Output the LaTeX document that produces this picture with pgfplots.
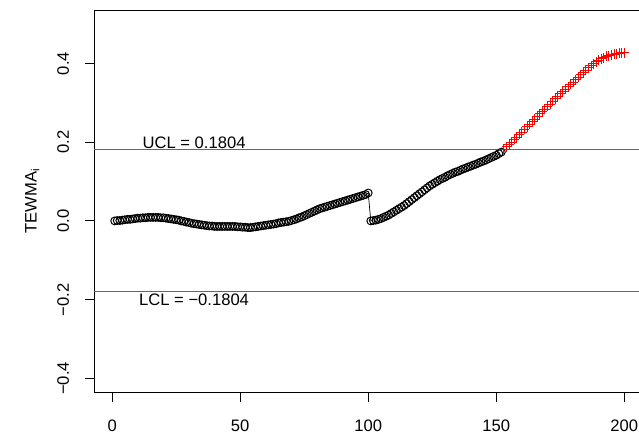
\documentclass[border=0pt]{standalone}
\usepackage{fontspec}
\setmainfont{Liberation Sans}
\usepackage{pgfplots}
\usepackage{pgfplotstable}
\pgfplotsset{compat=1.18}
\pgfplotstableread{
i v
1 0.000
2 0.001
3 0.001
4 0.002
5 0.003
6 0.004
7 0.004
8 0.005
9 0.006
10 0.007
11 0.007
12 0.008
13 0.008
14 0.009
15 0.009
16 0.009
17 0.009
18 0.009
19 0.008
20 0.008
21 0.007
22 0.006
23 0.005
24 0.004
25 0.003
26 0.002
27 0.000
28 -0.001
29 -0.003
30 -0.004
31 -0.006
32 -0.007
33 -0.008
34 -0.009
35 -0.010
36 -0.011
37 -0.012
38 -0.013
39 -0.013
40 -0.014
41 -0.014
42 -0.014
43 -0.014
44 -0.014
45 -0.014
46 -0.014
47 -0.014
48 -0.014
49 -0.015
50 -0.015
51 -0.016
52 -0.016
53 -0.017
54 -0.017
55 -0.016
56 -0.015
57 -0.014
58 -0.013
59 -0.012
60 -0.011
61 -0.010
62 -0.009
63 -0.008
64 -0.007
65 -0.005
66 -0.004
67 -0.003
68 -0.002
69 -0.001
70 0.001
71 0.003
72 0.005
73 0.008
74 0.010
75 0.013
76 0.016
77 0.019
78 0.022
79 0.025
80 0.028
81 0.031
82 0.033
83 0.035
84 0.037
85 0.039
86 0.041
87 0.043
88 0.045
89 0.047
90 0.049
91 0.051
92 0.053
93 0.055
94 0.057
95 0.059
96 0.061
97 0.063
98 0.065
99 0.067
100 0.071
101 0.000
102 0.001
103 0.002
104 0.004
105 0.006
106 0.009
107 0.012
108 0.015
109 0.019
110 0.023
111 0.027
112 0.031
113 0.035
114 0.039
115 0.044
116 0.049
117 0.054
118 0.059
119 0.064
120 0.069
121 0.074
122 0.079
123 0.084
124 0.089
125 0.093
126 0.097
127 0.101
128 0.105
129 0.108
130 0.111
131 0.115
132 0.118
133 0.121
134 0.124
135 0.126
136 0.129
137 0.132
138 0.134
139 0.137
140 0.139
141 0.142
142 0.144
143 0.147
144 0.150
145 0.152
146 0.155
147 0.158
148 0.161
149 0.164
150 0.167
151 0.171
152 0.175
153 0.182
154 0.188
155 0.194
156 0.200
157 0.207
158 0.213
159 0.220
160 0.226
161 0.233
162 0.239
163 0.246
164 0.252
165 0.259
166 0.265
167 0.272
168 0.278
169 0.284
170 0.291
171 0.297
172 0.304
173 0.310
174 0.317
175 0.323
176 0.329
177 0.335
178 0.341
179 0.347
180 0.353
181 0.359
182 0.365
183 0.371
184 0.377
185 0.383
186 0.389
187 0.394
188 0.399
189 0.404
190 0.408
191 0.412
192 0.415
193 0.418
194 0.420
195 0.422
196 0.424
197 0.425
198 0.426
199 0.427
200 0.428
}\tewma
\newcommand{\rfont}{\fontsize{16.6bp}{19bp}\selectfont}
\begin{document}
\begin{tikzpicture}
\useasboundingbox (0,0) rectangle (639bp,436bp);
\clip (0,0) rectangle (639bp,436bp);
\begin{axis}[
  at={(94.3bp,43.5bp)}, anchor=south west,
  scale only axis,
  width=550.4bp, height=382.5bp,
  xmin=-6.96, xmax=207.96,
  ymin=-0.436, ymax=0.536,
  axis line style={line width=0.9bp},
  tick style={line width=0.9bp, black},
  tick align=outside,
  major tick length=9.5bp,
  xtick={0,50,100,150,200},
  xticklabels={0,50,100,150,200},
  ytick={-0.4,-0.2,0,0.2,0.4},
  yticklabels={−0.4,−0.2,0.0,0.2,0.4},
  xtick pos=bottom, ytick pos=left,
  tick label style={font=\rfont},
  xticklabel style={anchor=base, yshift=-29bp},
  yticklabel style={xshift=-16bp, rotate=90, anchor=base},
  every axis y label/.style={at={(axis description cs:0,0.5)}, xshift=-62bp, rotate=90, anchor=center, font=\rfont},
  ylabel={TEWMA\textsubscript{i}},
  clip=false,
]
\addplot[black!60, line width=1bp] coordinates {(-6.96,0.1804) (207.96,0.1804)};
\addplot[black!60, line width=1bp] coordinates {(-6.96,-0.1804) (207.96,-0.1804)};
\addplot[black, line width=0.7bp, restrict x to domain=99:102] table[x=i,y=v] {\tewma};
\addplot[black, only marks, mark=o, mark size=3.9bp, mark options={line width=1bp}, restrict x to domain=1:152] table[x=i,y=v] {\tewma};
\addplot[red, only marks, mark=+, mark size=5bp, mark options={line width=0.95bp}, restrict x to domain=153:200] table[x=i,y=v] {\tewma};
\node[font=\rfont, anchor=south, inner sep=0pt, yshift=1.5bp] at (axis cs:32,0.1804) {UCL = 0.1804};
\node[font=\rfont, anchor=north, inner sep=0pt, yshift=-1.5bp] at (axis cs:32,-0.1804) {LCL = −0.1804};
\end{axis}
\end{tikzpicture}
\end{document}
